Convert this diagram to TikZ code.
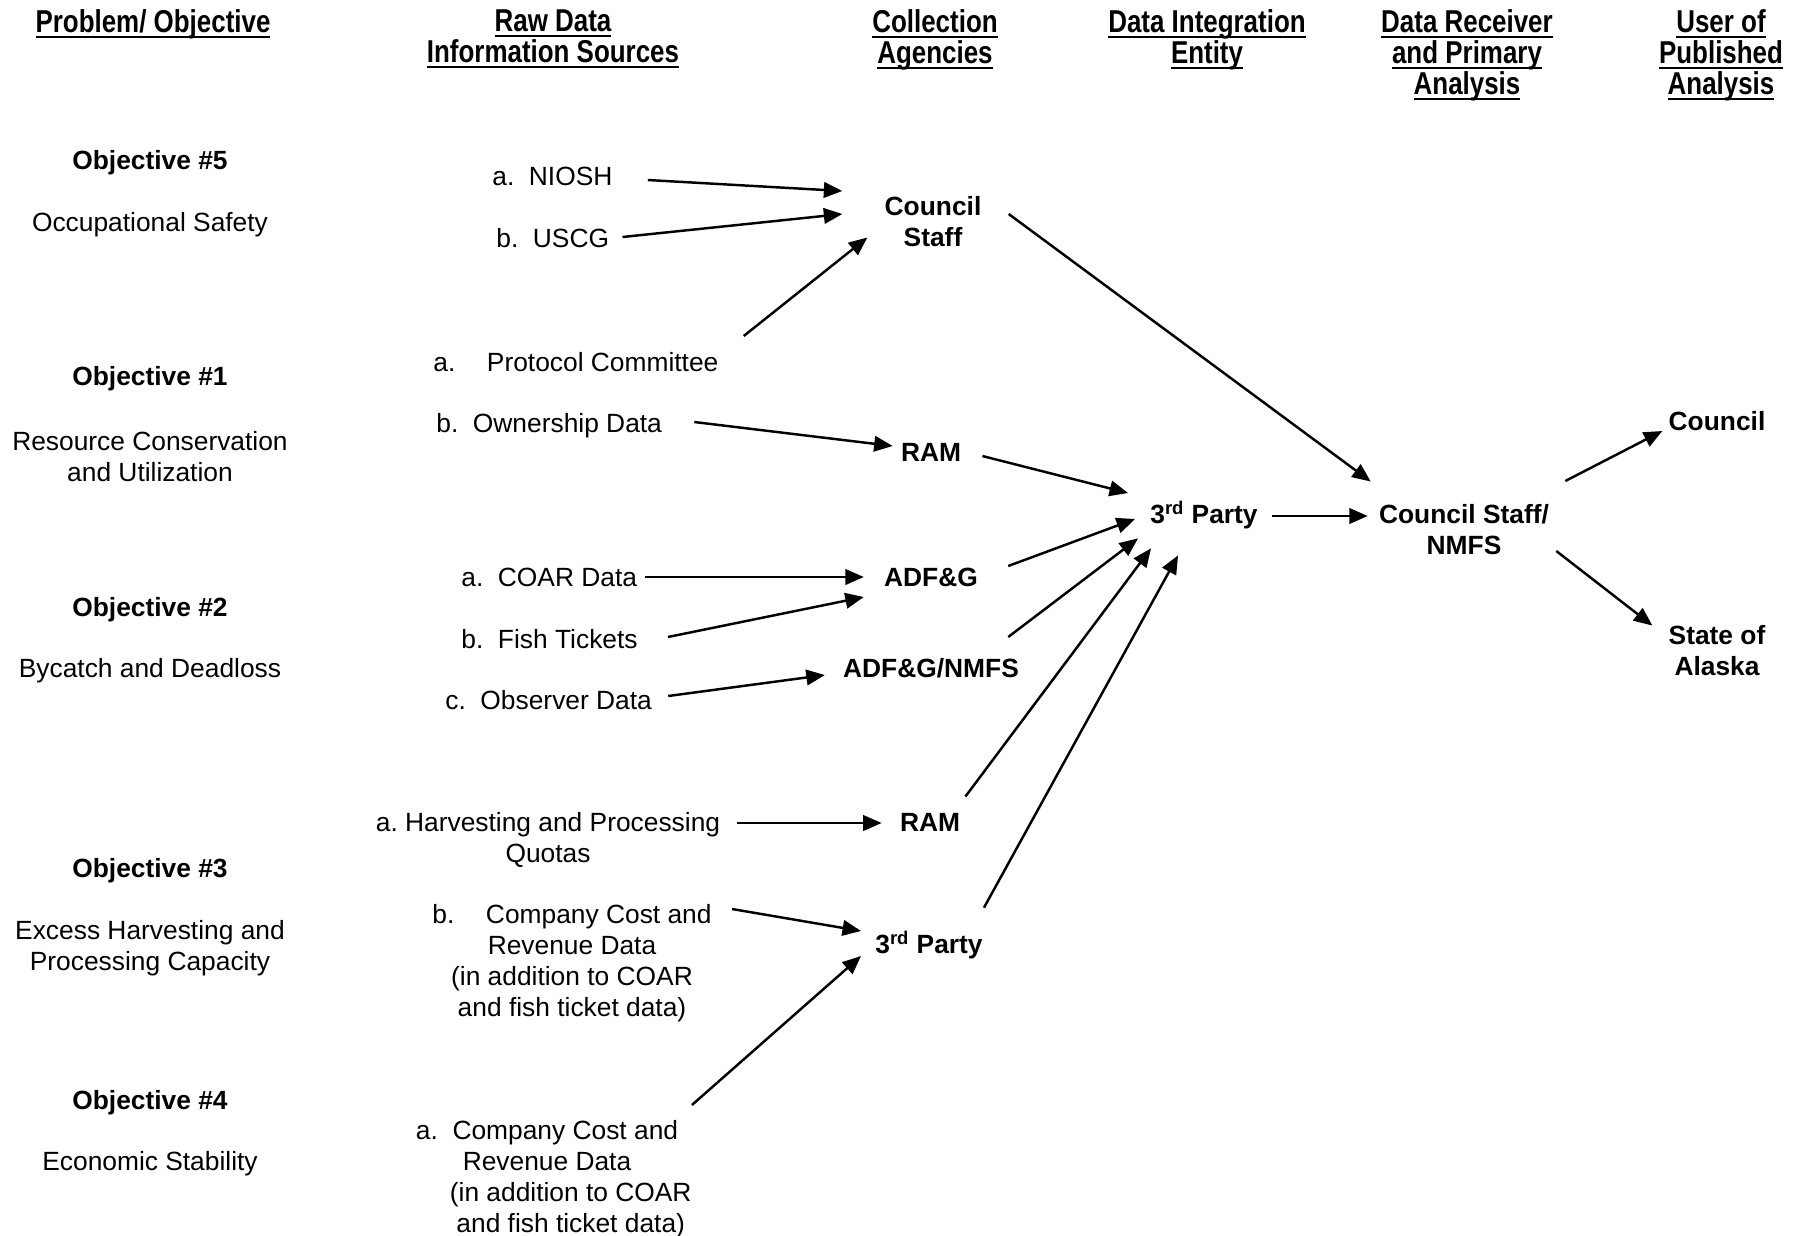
\documentclass[tikz,border=0pt]{standalone}
\usepackage{fontspec}
\setmainfont{Liberation Sans}
\usetikzlibrary{arrows.meta,calc}

% underlined, slightly condensed column heading
\newcommand\colhead[1]{\leavevmode\setbox0\hbox{\scalebox{0.82}[1]{#1}}\rlap{\rule[-3.5pt]{\wd0}{1.4pt}}\box0}

\begin{document}
\begin{tikzpicture}[
  x=0.02cm, y=-0.02cm,
  hd/.style={font=\fontsize{18}{17.6}\selectfont\bfseries, align=center, anchor=north, inner sep=0pt},
  obj/.style={font=\fontsize{15}{17.6}\selectfont\bfseries, inner sep=0pt},
  goal/.style={font=\fontsize{15}{17.6}\selectfont, align=center, inner sep=0pt},
  src/.style={font=\fontsize{15}{17.6}\selectfont, anchor=west, inner sep=0pt},
  srcb/.style={font=\fontsize{15}{17.6}\selectfont, align=center, inner sep=0pt},
  agc/.style={font=\fontsize{15}{17.6}\selectfont\bfseries, align=center, inner sep=0pt},
  arr/.style={-{Triangle[length=0.37cm,width=0.31cm]}, line width=1.4pt}
]
\useasboundingbox (0,0) rectangle (1807,1235);

% column headings
\node[hd] (hproblem) at (153,9) {\colhead{Problem/ Objective}};
\node[hd] (hraw) at (553,9) {\colhead{Raw Data}\\\colhead{Information Sources}};
\node[hd] (hcollect) at (935,9) {\colhead{Collection}\\\colhead{Agencies}};
\node[hd] (hinteg) at (1207,9) {\colhead{Data Integration}\\\colhead{Entity}};
\node[hd] (hrecv) at (1467,9) {\colhead{Data Receiver}\\\colhead{and Primary}\\\colhead{Analysis}};
\node[hd] (huser) at (1721,9) {\colhead{User of}\\\colhead{Published}\\\colhead{Analysis}};

% objectives
\node[obj] (obj5) at (150,163) {Objective \#5};
\node[goal] (safety) at (150,225) {Occupational Safety};
\node[obj] (obj1) at (150,379) {Objective \#1};
\node[goal] (conserv) at (150,457) {Resource Conservation\\and Utilization};
\node[obj] (obj2) at (150,610) {Objective \#2};
\node[goal] (bycatch) at (150,671) {Bycatch and Deadloss};
\node[obj] (obj3) at (150,871) {Objective \#3};
\node[goal] (excess) at (150,948) {Excess Harvesting and\\Processing Capacity};
\node[obj] (obj4) at (150,1103) {Objective \#4};
\node[goal] (econ) at (150,1164) {Economic Stability};

% raw data sources
\node[src] (niosh) at (492,176) {a.\ \ NIOSH};
\node[src] (uscg) at (496,238) {b.\ \ USCG};
\node[src] (protocol) at (433,362) {a.\hspace{1.2em}Protocol Committee};
\node[src] (owner) at (436,426) {b.\ \ Ownership Data};
\node[src] (coar) at (461,577) {a.\ \ COAR Data};
\node[src] (fish) at (461,639) {b.\ \ Fish Tickets};
\node[src] (observer) at (445,700) {c.\ \ Observer Data};
\node[srcb] (harvest) at (548,840) {a.\ Harvesting and Processing\\Quotas};
\node[srcb] (costb) at (572,963) {b.\hspace{1.2em}Company Cost and\\Revenue Data\\(in addition to COAR\\and fish ticket data)};
\node[srcb] (costa) at (547,1179) {a.\ \ Company Cost and\\Revenue Data\\\hspace*{1.8em}(in addition to COAR\\\hspace*{1.8em}and fish ticket data)};

% collection agencies
\node[agc] (cstaff) at (933,222) {Council\\Staff};
\node[agc] (ram1) at (931,452) {RAM};
\node[agc] (adfg) at (931,577) {ADF\&G};
\node[agc] (adfgn) at (931,668) {ADF\&G/NMFS};
\node[agc] (ram2) at (930,822) {RAM};
\node[agc] (third2) at (929,945) {3\textsuperscript{rd} Party};

% integration, receiver, users
\node[agc] (third1) at (1204,515) {3\textsuperscript{rd} Party};
\node[agc] (csnmfs) at (1464,530) {Council Staff/\\NMFS};
\node[agc] (council) at (1717,421) {Council};
\node[agc] (state) at (1717,651) {State of\\Alaska};

% sources to agencies
\draw[arr] ($(niosh.east)+(35,4)$) -- ($(cstaff.west)+(-42,-31)$);
\draw[arr] ($(uscg.east)+(13,-1)$) -- ($(cstaff.west)+(-42,-8)$);
\draw[arr] ($(protocol.east)+(25,-26)$) -- ($(cstaff.south west)+(-17,-10)$);
\draw[arr] ($(owner.east)+(32,-4)$) -- ($(ram1.west)+(-8,-6)$);
\draw[arr] ($(coar.east)+(8,0)$) -- ($(adfg.west)+(-20,0)$);
\draw[arr] ($(fish.east)+(30,-2)$) -- ($(adfg.west)+(-20,20)$);
\draw[arr] ($(observer.east)+(16,-4)$) -- ($(adfgn.west)+(-18,7)$);
\draw[arr] ($(harvest.east)+(17,-17)$) -- ($(ram2.west)+(-18,1)$);
\draw[arr] ($(costb.north east)+(20,5)$) -- ($(third2.west)+(-14,-14)$);
\draw[arr] ($(costa.north east)+(0,-15)$) -- ($(third2.west)+(-14,11)$);

% agencies to integration entity
\draw[arr] ($(ram1.east)+(21,4)$) -- ($(third1.west)+(-22,-22)$);
\draw[arr] ($(adfg.east)+(30,-11)$) -- ($(third1.west)+(-15,4)$);
\draw[arr] ($(adfgn.east)+(-11,-31)$) -- ($(third1.south west)+(-12,9)$);
\draw[arr] ($(ram2.north east)+(5,-16)$) -- ($(third1.south west)+(1,19)$);
\draw[arr] ($(third2.north east)+(1,-23)$) -- ($(third1.south west)+(28,26)$);

% to receiver and users
\draw[arr] ($(cstaff.east)+(27,-8)$) -- ($(csnmfs.north west)+(-8,-23)$);
\draw[arr] ($(third1.east)+(14,1)$) -- ($(csnmfs.west)+(-11,-14)$);
\draw[arr] ($(csnmfs.east)+(16,-49)$) -- ($(council.west)+(-6,10)$);
\draw[arr] ($(csnmfs.east)+(7,21)$) -- ($(state.north west)+(-16,0)$);
\end{tikzpicture}
\end{document}
